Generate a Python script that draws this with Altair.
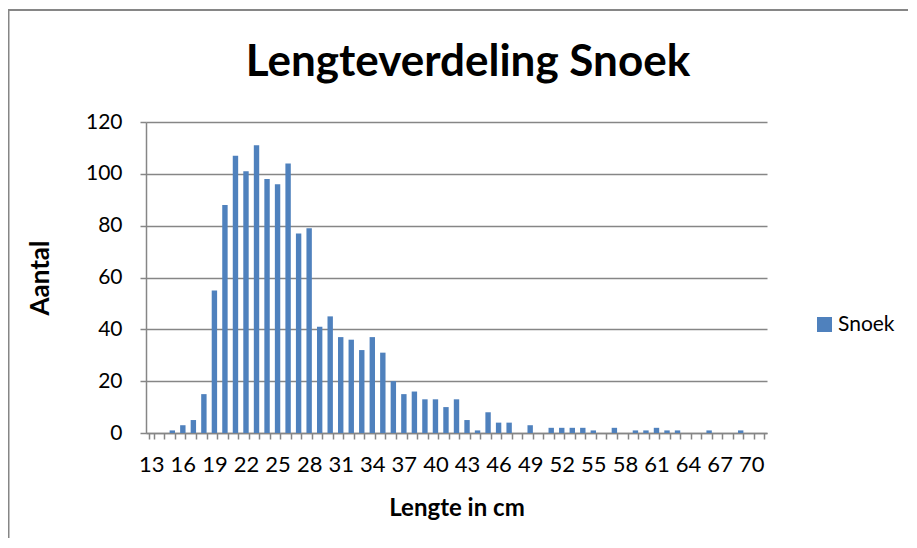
import altair as alt
import pandas as pd

lengths = list(range(13, 72))
counts = [0, 0, 1, 3, 5, 15, 55, 88, 107, 101, 111, 98, 96, 104, 77, 79, 41, 45, 37, 36,
          32, 37, 31, 20, 15, 16, 13, 13, 10, 13, 5, 1, 8, 4, 4, 0, 3, 0, 2, 2,
          2, 2, 1, 0, 2, 0, 1, 1, 2, 1, 1, 0, 0, 1, 0, 0, 1, 0, 0]
series = ["Snoek"] * len(lengths)
title_text = ["Lengteverdeling Snoek"]

df = pd.DataFrame({"lengte": lengths, "aantal": counts, "reeks": series})
tdf = pd.DataFrame({"t": title_text})

FONT = "Lato"
GRAY = "#868686"
W, H = 621, 311

bars = alt.Chart(df).mark_bar(size=5.4).encode(
    x=alt.X("lengte:O",
            scale=alt.Scale(paddingInner=0.5, paddingOuter=0.25),
            axis=alt.Axis(title="Lengte in cm", tickBand="extent", labelAngle=0,
                          labelExpr="(datum.value - 13) % 3 == 0 ? datum.label : ''",
                          labelFont=FONT, labelFontSize=22, labelColor="black",
                          labelPadding=15, tickSize=6, tickColor=GRAY, tickWidth=1.5,
                          domainColor=GRAY, domainWidth=1.5, grid=False,
                          titleFont=FONT, titleFontSize=24, titleFontWeight="bold",
                          titleColor="black", titlePadding=21)),
    y=alt.Y("aantal:Q",
            scale=alt.Scale(domain=[0, 120]),
            axis=alt.Axis(title="Aantal", values=[0, 20, 40, 60, 80, 100, 120],
                          labelFont=FONT, labelFontSize=21, labelColor="black",
                          labelPadding=18, tickSize=6, tickColor=GRAY, tickWidth=1.5,
                          domainColor=GRAY, domainWidth=1.5,
                          grid=True, gridColor=GRAY, gridWidth=1.5,
                          titleFont=FONT, titleFontSize=26, titleFontWeight="bold",
                          titleColor="black", titlePadding=32)),
    color=alt.Color("reeks:N", scale=alt.Scale(range=["#4F81BD"]),
                    legend=alt.Legend(title=None, orient="none", legendX=668, legendY=192,
                                      symbolType="square", symbolSize=225,
                                      symbolStrokeWidth=0, labelFont=FONT,
                                      labelFontSize=21, labelColor="black",
                                      labelOffset=3)),
)

frame = alt.Chart(tdf).mark_rect(fill=None, stroke=GRAY, strokeWidth=2, clip=False).encode(
    x=alt.value(-137.5), x2=alt.value(900), y=alt.value(-112), y2=alt.value(600)
)

title = alt.Chart(tdf).mark_text(font=FONT, fontSize=44, fontWeight="bold", color="black",
                                 align="center", baseline="alphabetic").encode(
    text="t:N", x=alt.value(322), y=alt.value(-46)
)

chart = alt.layer(frame, title, bars).properties(
    width=W, height=H,
    autosize=alt.AutoSizeParams(type="none"),
    padding={"left": 138, "top": 114, "right": 141, "bottom": 105},
).configure_view(stroke=None)

chart.save("out.html", embed_options={"renderer": "svg", "actions": False})
